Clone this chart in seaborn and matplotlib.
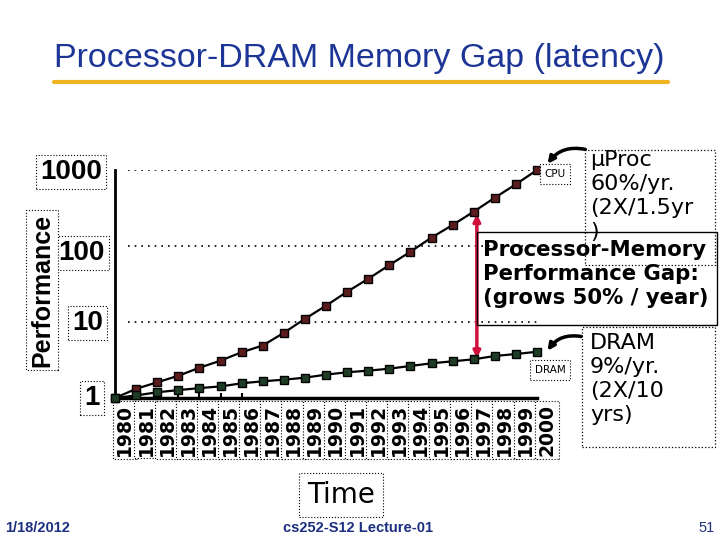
import matplotlib
matplotlib.use("Agg")
import matplotlib.pyplot as plt
import matplotlib.transforms as mtransforms
from matplotlib.patches import FancyArrowPatch, Rectangle
from matplotlib.lines import Line2D
import seaborn as sns
import pandas as pd

years = list(range(1980, 2001))
cpu = [1.0, 1.32, 1.61, 1.96, 2.5, 3.1, 4.0, 4.9, 7.2, 11.0, 16.4, 25, 37, 56,
       84, 129, 189, 283, 432, 649, 1000]
dram = [1.0, 1.08, 1.19, 1.27, 1.35, 1.42, 1.56, 1.66, 1.74, 1.85, 2.03, 2.18,
        2.29, 2.43, 2.64, 2.86, 3.04, 3.23, 3.57, 3.79, 4.06]
y_ticks = [1, 10, 100, 1000]
y_tick_labels = ["1", "10", "100", "1000"]
year_labels = [str(y) for y in years]

title = "Processor-DRAM Memory Gap (latency)"
proc_text = "\u00b5Proc\n60%/yr.\n(2X/1.5yr\n)"
gap_text = "Processor-Memory\nPerformance Gap:\n(grows 50% / year)"
dram_text = "DRAM\n9%/yr.\n(2X/10\nyrs)"

sns.set_theme(style="white")
plt.rcParams["font.family"] = ["DejaVu Sans"]
plt.rcParams["text.color"] = "black"

W, H = 720, 540
fig = plt.figure(figsize=(7.2, 5.4), dpi=100)
fig.patch.set_facecolor("white")


def P(x, y):
    return (x / W, 1 - y / H)


ax_l, ax_r, ax_t, ax_b = 115, 537, 170, 398
ax = fig.add_axes([ax_l / W, 1 - ax_b / H, (ax_r - ax_l) / W, (ax_b - ax_t) / H])
ax.set_facecolor("white")

df_cpu = pd.DataFrame({"year": years, "perf": cpu})
df_dram = pd.DataFrame({"year": years, "perf": dram})

sns.lineplot(data=df_cpu, x="year", y="perf", ax=ax, color="black", lw=1.6,
             marker="s", markersize=5.5, markerfacecolor="#5a1c1c",
             markeredgecolor="black", markeredgewidth=1.0, clip_on=False, zorder=4)
sns.lineplot(data=df_dram, x="year", y="perf", ax=ax, color="black", lw=1.6,
             marker="s", markersize=5.5, markerfacecolor="#1f3d24",
             markeredgecolor="black", markeredgewidth=1.0, clip_on=False, zorder=4)

ax.set_yscale("log")
ax.set_xlim(1980, 2000)
ax.set_ylim(1, 1000)
ax.set_xlabel("")
ax.set_ylabel("")
ax.set_xticks([])
ax.set_yticks([])
ax.minorticks_off()
ax.tick_params(which="both", length=0, labelleft=False, labelbottom=False)

for s in ["top", "right"]:
    ax.spines[s].set_visible(False)
ax.spines["left"].set_linewidth(2)
ax.spines["bottom"].set_linewidth(2.5)
ax.spines["left"].set_color("black")
ax.spines["bottom"].set_color("black")

# dotted gridlines
for v in y_ticks[1:]:
    ax.hlines(v, 1980.6, 2000, colors="black", linestyles=(0, (1, 3)), lw=1.2,
              zorder=1)

# small ticks on x axis
ax.vlines(years[1:7], 1.0, 1.16, colors="black", lw=1.5, clip_on=False)

# year labels
btrans = mtransforms.blended_transform_factory(ax.transData, ax.transAxes)
for yr, lab in zip(years, year_labels):
    ax.text(yr + 0.47, -0.025, lab, transform=btrans, rotation=90, ha="center",
            va="top", fontsize=13.5, fontweight="bold", color="black",
            bbox=dict(boxstyle="square,pad=0.15", fc="white", ec="black",
                      ls=":", lw=0.8))

# y labels
ylab_pos = {"1000": (102, 172), "100": (105, 253), "10": (103, 323), "1": (100, 398)}
for lab in y_tick_labels:
    x, y = ylab_pos[lab]
    fig.text(*P(x, y), lab, ha="right", va="center", fontsize=20,
             fontweight="bold", family="Liberation Sans", color="black",
             bbox=dict(boxstyle="square,pad=0.15", fc="white", ec="black",
                       ls=":", lw=0.8))

fig.text(*P(42, 290), "Performance", rotation=90, ha="center", va="center",
         fontsize=18, fontweight="bold", family="Liberation Sans", color="black",
         bbox=dict(boxstyle="square,pad=0.15", fc="white", ec="black",
                   ls=":", lw=0.8))

# title
fig.text(*P(359, 58), title, ha="center", va="center", fontsize=24.5,
         family="Liberation Sans", color="#1c3596")
fig.add_artist(Line2D([54 / W, 668 / W], [1 - 82 / H, 1 - 82 / H],
                      color="#f0b323", lw=3))

# footer
fig.text(*P(5, 528), "1/18/2012", ha="left", va="center", fontsize=10.5,
         fontweight="bold", family="Liberation Sans", color="#1c2f80")
fig.text(*P(358, 528), "cs252-S12 Lecture-01", ha="center", va="center",
         fontsize=10.5, fontweight="bold", family="Liberation Sans",
         color="#1c2f80")
fig.text(*P(715, 528), "51", ha="right", va="center", fontsize=10.5,
         family="Liberation Sans", color="#1c2f80")

# Time label
fig.text(*P(341, 495), "Time", ha="center", va="center", fontsize=20,
         color="black",
         bbox=dict(boxstyle="square,pad=0.28", fc="white", ec="black",
                   ls=":", lw=0.8))


def box(x0, y0, x1, y1, ls=":", lw=0.9):
    r = Rectangle(P(x0, y1), (x1 - x0) / W, (y1 - y0) / H,
                  transform=fig.transFigure, fill=False, ec="black", ls=ls,
                  lw=lw, zorder=5)
    fig.add_artist(r)


# annotation boxes
box(585, 150, 715, 265)
box(477, 232, 717, 325, ls="-", lw=1.0)
box(582, 327, 715, 447)

fig.text(*P(590, 150), proc_text, ha="left", va="top", fontsize=16,
         linespacing=1.25, color="black")
fig.text(*P(483, 240), gap_text, ha="left", va="top", fontsize=15.3,
         fontweight="bold", linespacing=1.25, color="black")
fig.text(*P(590, 333), dram_text, ha="left", va="top", fontsize=16,
         linespacing=1.25, color="black")

# small CPU / DRAM labels
fig.text(*P(555, 174), "CPU", ha="center", va="center", fontsize=7.5,
         color="black",
         bbox=dict(boxstyle="square,pad=0.45", fc="white", ec="black",
                   ls=":", lw=0.8))
fig.text(*P(550, 370), "DRAM", ha="center", va="center", fontsize=7.5,
         color="black",
         bbox=dict(boxstyle="square,pad=0.45", fc="white", ec="black",
                   ls=":", lw=0.8))

# curved arrows
for a, b in [((588, 150), (546, 166)), ((584, 337), (546, 353))]:
    fig.add_artist(FancyArrowPatch(P(*a), P(*b), transform=fig.transFigure,
                                   connectionstyle="arc3,rad=0.35",
                                   arrowstyle="-|>", mutation_scale=10,
                                   lw=2.5, color="black"))

# red gap arrow
ax.annotate("", xy=(1997.15, cpu[17] * 0.93), xytext=(1997.15, dram[17] * 1.03),
            arrowprops=dict(arrowstyle="<|-|>", color="#d0103a", lw=2.5,
                            shrinkA=0, shrinkB=0, mutation_scale=10), zorder=3)

fig.savefig("out.png", dpi=100, facecolor="white")
